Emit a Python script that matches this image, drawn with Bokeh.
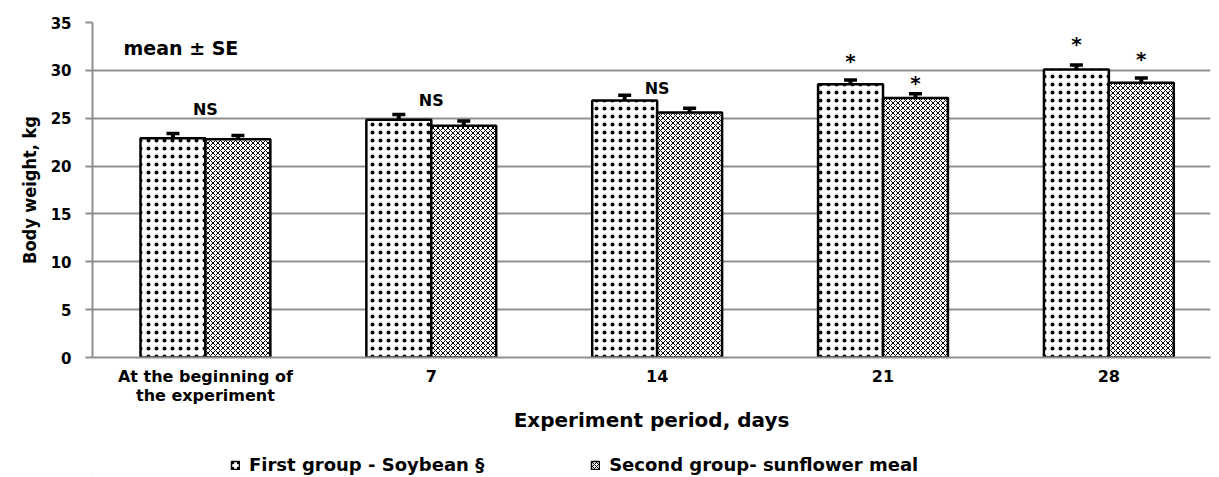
from bokeh.plotting import figure
from bokeh.layouts import column
from bokeh.models import (ColumnDataSource, Range1d, Whisker, Legend, LegendItem,
                          Label, FixedTicker, TeeHead)
from bokeh.transform import dodge
from bokeh.core.properties import value
from bokeh.embed import file_html
from bokeh.resources import INLINE

categories = ["At the beginning of\nthe experiment", "7", "14", "21", "28"]
group1 = [22.9, 24.85, 26.85, 28.55, 30.1]
group1_se = [0.5, 0.55, 0.55, 0.45, 0.45]
group2 = [22.8, 24.2, 25.6, 27.1, 28.7]
group2_se = [0.4, 0.5, 0.45, 0.45, 0.5]
# significance marks and the heights at which they are printed
sig_center = ["NS", "NS", "NS", "", ""]
sig_center_level = [25.9, 26.8, 28.1, 0, 0]
sig_g1 = ["", "", "", "*", "*"]
sig_g1_level = [31.1, 31.1, 31.1, 31.1, 32.9]
sig_g2 = ["", "", "", "*", "*"]
sig_g2_level = [28.8, 28.8, 28.8, 28.8, 31.3]
y_ticks = [0, 5, 10, 15, 20, 25, 30, 35]
series_names = ["First group - Soybean §", "Second group- sunflower meal"]

FONT = "DejaVu Sans, sans-serif"
BW = 0.2875

BAR1 = dict(fill_color="white", line_color="black", line_width=2.5,
            hatch_pattern="dot", hatch_color="black", hatch_scale=8, hatch_weight=1.1)
BAR2 = dict(fill_color="white", line_color="black", line_width=2.5,
            hatch_pattern="diagonal_cross", hatch_color="black", hatch_scale=5, hatch_weight=1)

pos = [i + 0.5 for i in range(len(categories))]
src = ColumnDataSource(dict(
    pos=pos,
    g1=group1, g2=group2,
    g1_up=[v + e for v, e in zip(group1, group1_se)],
    g1_lo=[v - e for v, e in zip(group1, group1_se)],
    g2_up=[v + e for v, e in zip(group2, group2_se)],
    g2_lo=[v - e for v, e in zip(group2, group2_se)],
    ns=sig_center, ns_y=sig_center_level,
    s1=sig_g1, s1_y=sig_g1_level,
    s2=sig_g2, s2_y=sig_g2_level,
))

p = figure(frame_width=1118, frame_height=335, x_range=Range1d(0, 4.95), y_range=Range1d(0, 35),
           output_backend="svg", toolbar_location=None,
           min_border_left=92, min_border_right=9, min_border_top=22, min_border_bottom=90)
p.outline_line_color = None
p.background_fill_color = "white"

p.vbar(x=dodge("pos", -BW / 2), top="g1", width=BW, source=src, **BAR1)
p.vbar(x=dodge("pos", BW / 2), top="g2", width=BW, source=src, **BAR2)

for off, up, lo in [(-BW / 2, "g1_up", "g1_lo"), (BW / 2, "g2_up", "g2_lo")]:
    w = Whisker(base=dodge("pos", off), upper=up, lower=lo, source=src,
                line_color="black", line_width=4,
                upper_head=TeeHead(size=13, line_width=3.5, line_color="black"),
                lower_head=TeeHead(size=13, line_width=3.5, line_color="black"))
    p.add_layout(w)

p.text(x="pos", y="ns_y", text="ns", source=src, text_align="center", text_baseline="alphabetic",
       text_font=value(FONT), text_font_style="bold", text_font_size="16px", text_color="black")
p.text(x=dodge("pos", -BW / 2), y="s1_y", text="s1", source=src, y_offset=1,
       text_align="center", text_baseline="alphabetic",
       text_font=value(FONT), text_font_style="bold", text_font_size="20px", text_color="black")
p.text(x=dodge("pos", BW / 2), y="s2_y", text="s2", source=src, y_offset=1,
       text_align="center", text_baseline="alphabetic",
       text_font=value(FONT), text_font_style="bold", text_font_size="20px", text_color="black")

p.add_layout(Label(x=31, y=310, x_units="screen", y_units="screen",
                   text="mean ± SE", text_font=FONT, text_font_style="bold",
                   text_font_size="19px", text_color="black", text_baseline="middle"))

GRID = "#8f8f8f"
# y axis
p.yaxis.ticker = FixedTicker(ticks=y_ticks)
p.yaxis.axis_line_color = GRID
p.yaxis.axis_line_width = 2
p.yaxis.major_tick_line_color = GRID
p.yaxis.major_tick_line_width = 2
p.yaxis.major_tick_out = 7
p.yaxis.major_tick_in = 0
p.yaxis.minor_tick_line_color = None
p.yaxis.major_label_text_font = FONT
p.yaxis.major_label_text_font_style = "bold"
p.yaxis.major_label_text_font_size = "15px"
p.yaxis.major_label_text_color = "black"
p.yaxis.major_label_standoff = 14
p.yaxis.axis_label = "Body weight, kg"
p.yaxis.axis_label_text_font = "Liberation Sans Narrow, DejaVu Sans Condensed, sans-serif"
p.yaxis.axis_label_text_font_style = "bold"
p.yaxis.axis_label_text_font_size = "18px"
p.yaxis.axis_label_text_color = "black"
p.yaxis.axis_label_standoff = 8

# x axis
p.xaxis.ticker = FixedTicker(ticks=pos)
p.xaxis.major_label_overrides = {x: c for x, c in zip(pos, categories)}
p.xaxis.axis_line_color = GRID
p.xaxis.axis_line_width = 2
p.xaxis.major_tick_line_color = None
p.xaxis.minor_tick_line_color = None
p.xaxis.major_label_text_font = FONT
p.xaxis.major_label_text_font_style = "bold"
p.xaxis.major_label_text_font_size = "16px"
p.xaxis.major_label_text_line_height = 1.0
p.xaxis.major_label_text_color = "black"
p.xaxis.major_label_standoff = 3
p.xaxis.axis_label = "Experiment period, days"
p.xaxis.axis_label_text_font = FONT
p.xaxis.axis_label_text_font_style = "bold"
p.xaxis.axis_label_text_font_size = "20px"
p.xaxis.axis_label_text_color = "black"
p.xaxis.axis_label_standoff = 0

p.xgrid.grid_line_color = None
p.ygrid.grid_line_color = GRID
p.ygrid.grid_line_width = 2

# legend row below the chart (its swatch renderers lie outside the visible range)
lg = figure(frame_width=1219, frame_height=28, x_range=Range1d(0, 1), y_range=Range1d(0, 1),
            x_axis_type=None, y_axis_type=None, output_backend="svg", toolbar_location=None,
            min_border_left=0, min_border_right=0, min_border_top=0, min_border_bottom=0)
lg.outline_line_color = None
lg.xgrid.grid_line_color = None
lg.ygrid.grid_line_color = None
swatch = ColumnDataSource(dict(x=[-10], top=[-10]))
k1 = lg.vbar(x="x", top="top", bottom=-11, width=0.1, source=swatch,
             **{**BAR1, "line_width": 1.5, "hatch_scale": 5})
k2 = lg.vbar(x="x", top="top", bottom=-11, width=0.1, source=swatch,
             **{**BAR2, "line_width": 1.5, "hatch_scale": 4})
legend = Legend(items=[LegendItem(label=series_names[0], renderers=[k1]),
                       LegendItem(label=series_names[1], renderers=[k2])],
                orientation="horizontal", location=(230, 0),
                label_text_font=FONT, label_text_font_style="bold", label_text_font_size="18px",
                label_text_color="black", glyph_width=10, glyph_height=10, label_height=18,
                spacing=106, label_standoff=9, border_line_color=None,
                background_fill_alpha=0, margin=0, padding=0)
lg.add_layout(legend, "center")

open("out.html", "w").write(file_html(column(p, lg, spacing=0), INLINE))
